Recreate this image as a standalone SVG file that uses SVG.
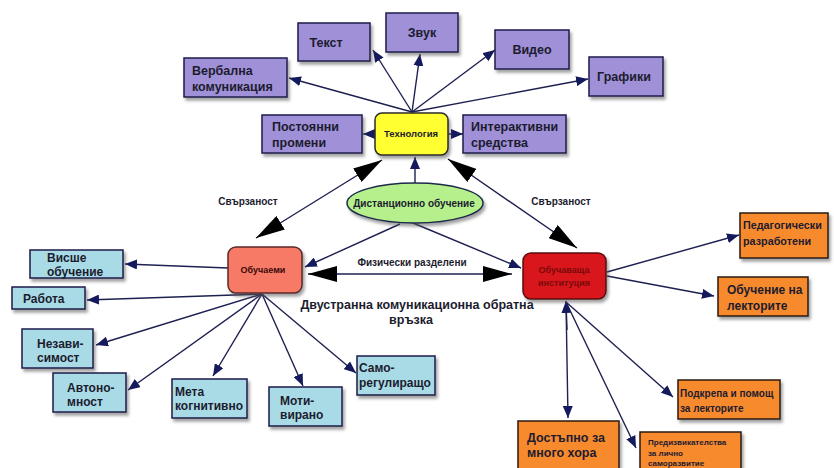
<svg xmlns="http://www.w3.org/2000/svg" width="834" height="468" viewBox="0 0 834 468">
<defs>
<filter id="sh" x="-20%" y="-20%" width="150%" height="160%">
<feDropShadow dx="2" dy="3" stdDeviation="1.8" flood-color="#555" flood-opacity="0.55"/>
</filter>
<marker id="nav" markerUnits="userSpaceOnUse" markerWidth="13" markerHeight="10" refX="12" refY="5" orient="auto">
<path d="M0,0 L12,5 L0,10 z" fill="#141a5c"/>
</marker>
<marker id="big" markerUnits="userSpaceOnUse" markerWidth="30" markerHeight="16" refX="29" refY="8" orient="auto-start-reverse">
<path d="M0,0 L29,8 L0,16 z" fill="#000"/>
</marker>
<style>
.t{font-family:"Liberation Sans",Arial,sans-serif;font-weight:bold;fill:#1c1c2e}
.p{fill:#9f90d8;stroke:#1c1a4a;stroke-width:1.5}
.b{fill:#a9dbe6;stroke:#1c1a4a;stroke-width:1.5}
.o{fill:#f88a2e;stroke:#2a1a10;stroke-width:1.5}
.c line,.c path{stroke:#1d2050;stroke-width:1.4;fill:none}
.k{stroke:#000;stroke-width:4.5}
</style>
</defs>
<rect width="834" height="468" fill="#fff"/>

<g id="connectors" class="c">
<line x1="412" y1="112" x2="289" y2="78" marker-end="url(#nav)"/>
<line x1="412" y1="112" x2="373" y2="50" marker-end="url(#nav)"/>
<line x1="412" y1="112" x2="420" y2="54" marker-end="url(#nav)"/>
<line x1="412" y1="112" x2="495" y2="50" marker-end="url(#nav)"/>
<line x1="412" y1="112" x2="588" y2="79" marker-end="url(#nav)"/>
<line x1="376" y1="134" x2="363" y2="134" marker-end="url(#nav)"/>
<line x1="448" y1="134" x2="463" y2="134" marker-end="url(#nav)"/>
<line x1="415" y1="183" x2="415" y2="157" marker-end="url(#nav)"/>
<line x1="400" y1="224" x2="305" y2="267" marker-end="url(#nav)"/>
<line x1="413" y1="223" x2="521" y2="268" marker-end="url(#nav)"/>
<line x1="228" y1="268" x2="125" y2="264" marker-end="url(#nav)"/>
<line x1="262" y1="294" x2="87" y2="300" marker-end="url(#nav)"/>
<line x1="262" y1="294" x2="96" y2="345" marker-end="url(#nav)"/>
<line x1="262" y1="294" x2="128" y2="390" marker-end="url(#nav)"/>
<line x1="262" y1="294" x2="213" y2="376" marker-end="url(#nav)"/>
<line x1="262" y1="294" x2="303" y2="386" marker-end="url(#nav)"/>
<line x1="262" y1="294" x2="356" y2="373" marker-end="url(#nav)"/>
<line x1="607" y1="272" x2="739" y2="235" marker-end="url(#nav)"/>
<line x1="607" y1="276" x2="714" y2="296" marker-end="url(#nav)"/>
<line x1="566" y1="302" x2="568" y2="418" marker-end="url(#nav)"/>
<line x1="566" y1="302" x2="636" y2="448" marker-end="url(#nav)"/>
<line x1="566" y1="302" x2="673" y2="397" marker-end="url(#nav)"/>
<line x1="567" y1="330" x2="566" y2="301" marker-end="url(#nav)"/>
<line class="k" x1="256" y1="238" x2="382" y2="160" marker-start="url(#big)" marker-end="url(#big)"/>
<line class="k" x1="577" y1="248" x2="448" y2="159" marker-start="url(#big)" marker-end="url(#big)"/>
<line class="k" x1="308" y1="274" x2="512" y2="274" marker-start="url(#big)" marker-end="url(#big)"/>
</g>

<g id="labels">
<text class="t" x="248" y="205" font-size="10" text-anchor="middle">Свързаност</text>
<text class="t" x="561" y="205" font-size="10" text-anchor="middle">Свързаност</text>
<text class="t" x="412" y="266" font-size="10" text-anchor="middle">Физически разделени</text>
<text class="t" x="417" y="309" font-size="12.5" text-anchor="middle">Двустранна комуникационна обратна</text>
<text class="t" x="411" y="324" font-size="12.5" text-anchor="middle">връзка</text>
</g>

<g id="verbal"><rect class="p" x="184" y="58" width="103" height="39" filter="url(#sh)"/>
<text class="t" x="192" y="75" font-size="12.5">Вербална</text><text class="t" x="192" y="91" font-size="12.5">комуникация</text></g>
<g id="text"><rect class="p" x="298" y="23" width="72" height="38" filter="url(#sh)"/>
<text class="t" x="326" y="47" font-size="12.5" text-anchor="middle">Текст</text></g>
<g id="sound"><rect class="p" x="386" y="13" width="72" height="39" filter="url(#sh)"/>
<text class="t" x="422" y="37" font-size="12.5" text-anchor="middle">Звук</text></g>
<g id="video"><rect class="p" x="495" y="30" width="74" height="39" filter="url(#sh)"/>
<text class="t" x="532" y="54" font-size="12.5" text-anchor="middle">Видео</text></g>
<g id="graphics"><rect class="p" x="589" y="57" width="74" height="39" filter="url(#sh)"/>
<text class="t" x="624" y="81" font-size="12.5" text-anchor="middle">Графики</text></g>
<g id="changes"><rect class="p" x="262" y="115" width="100" height="38" filter="url(#sh)"/>
<text class="t" x="272" y="131" font-size="12.5">Постоянни</text><text class="t" x="272" y="147" font-size="12.5">промени</text></g>
<g id="interactive"><rect class="p" x="463" y="115" width="103" height="38" filter="url(#sh)"/>
<text class="t" x="471" y="131" font-size="12.5">Интерактивни</text><text class="t" x="471" y="147" font-size="12.5">средства</text></g>
<g id="technology"><rect x="375" y="113" width="73" height="42" rx="7" fill="#ffff30" stroke="#2a2a2a" stroke-width="1.5" filter="url(#sh)"/>
<text class="t" x="411" y="137" font-size="9.5" text-anchor="middle">Технология</text></g>
<g id="distance"><ellipse cx="415" cy="203" rx="68" ry="20" fill="#b6f08c" stroke="#1c2a4a" stroke-width="1.5" filter="url(#sh)"/>
<text class="t" x="414" y="207" font-size="10" text-anchor="middle">Дистанционно обучение</text></g>

<g id="learners"><rect x="228" y="247" width="74" height="46" rx="8" fill="#f67a66" stroke="#5a2a2a" stroke-width="1.5" filter="url(#sh)"/>
<text x="263" y="273" font-size="9" text-anchor="middle" font-family="Liberation Sans,Arial,sans-serif" font-weight="bold" fill="#3a0a0a">Обучаеми</text></g>
<g id="institution"><rect x="523" y="253" width="83" height="46" rx="8" fill="#d8121a" stroke="#5a0a0a" stroke-width="1.5" filter="url(#sh)"/>
<text x="564" y="273" font-size="9" text-anchor="middle" font-family="Liberation Sans,Arial,sans-serif" font-weight="bold" fill="#7a0a0a">Обучаваща</text>
<text x="564" y="286" font-size="9" text-anchor="middle" font-family="Liberation Sans,Arial,sans-serif" font-weight="bold" fill="#7a0a0a">институция</text></g>

<g id="higher"><rect class="b" x="30" y="250" width="93" height="28" filter="url(#sh)"/>
<text class="t" x="47" y="262" font-size="12">Висше</text><text class="t" x="47" y="276" font-size="12">обучение</text></g>
<g id="work"><rect class="b" x="12" y="287" width="73" height="22" filter="url(#sh)"/>
<text class="t" x="23" y="303" font-size="12">Работа</text></g>
<g id="independence"><rect class="b" x="22" y="329" width="71" height="39" filter="url(#sh)"/>
<text class="t" x="37" y="348" font-size="12">Незави-</text><text class="t" x="37" y="362" font-size="12">симост</text></g>
<g id="autonomy"><rect class="b" x="53" y="373" width="73" height="39" filter="url(#sh)"/>
<text class="t" x="67" y="392" font-size="12">Автоно-</text><text class="t" x="67" y="406" font-size="12">мност</text></g>
<g id="meta"><rect class="b" x="172" y="379" width="75" height="39" filter="url(#sh)"/>
<text class="t" x="175" y="396" font-size="12">Мета</text><text class="t" x="175" y="410" font-size="12">когнитивно</text></g>
<g id="motivated"><rect class="b" x="269" y="387" width="73" height="39" filter="url(#sh)"/>
<text class="t" x="280" y="405" font-size="12">Моти-</text><text class="t" x="280" y="419" font-size="12">вирано</text></g>
<g id="selfreg"><rect class="b" x="357" y="356" width="78" height="39" filter="url(#sh)"/>
<text class="t" x="359" y="372" font-size="12">Само-</text><text class="t" x="359" y="387" font-size="12">регулиращо</text></g>

<g id="pedagogical"><rect class="o" x="740" y="213" width="88" height="45" filter="url(#sh)"/>
<text class="t" x="743" y="229" font-size="10.8">Педагогически</text><text class="t" x="743" y="245" font-size="10.8">разработени</text></g>
<g id="training"><rect class="o" x="718" y="277" width="90" height="39" filter="url(#sh)"/>
<text class="t" x="727" y="294" font-size="12">Обучение на</text><text class="t" x="727" y="310" font-size="12">лекторите</text></g>
<g id="support"><rect class="o" x="678" y="380" width="102" height="39" filter="url(#sh)"/>
<text class="t" x="680" y="397" font-size="10">Подкрепа и помощ</text><text class="t" x="680" y="412" font-size="10">за лекторите</text></g>
<g id="accessible"><rect class="o" x="518" y="421" width="101" height="52" filter="url(#sh)"/>
<text class="t" x="527" y="442" font-size="12.5">Достъпно за</text><text class="t" x="527" y="457" font-size="12.5">много хора</text></g>
<g id="challenges"><rect class="o" x="640" y="432" width="101" height="40" filter="url(#sh)"/>
<text class="t" x="648" y="445" font-size="8">Предизвикателства</text><text class="t" x="648" y="456" font-size="8">за лично</text><text class="t" x="648" y="466" font-size="8">саморазвитие</text></g>
</svg>
